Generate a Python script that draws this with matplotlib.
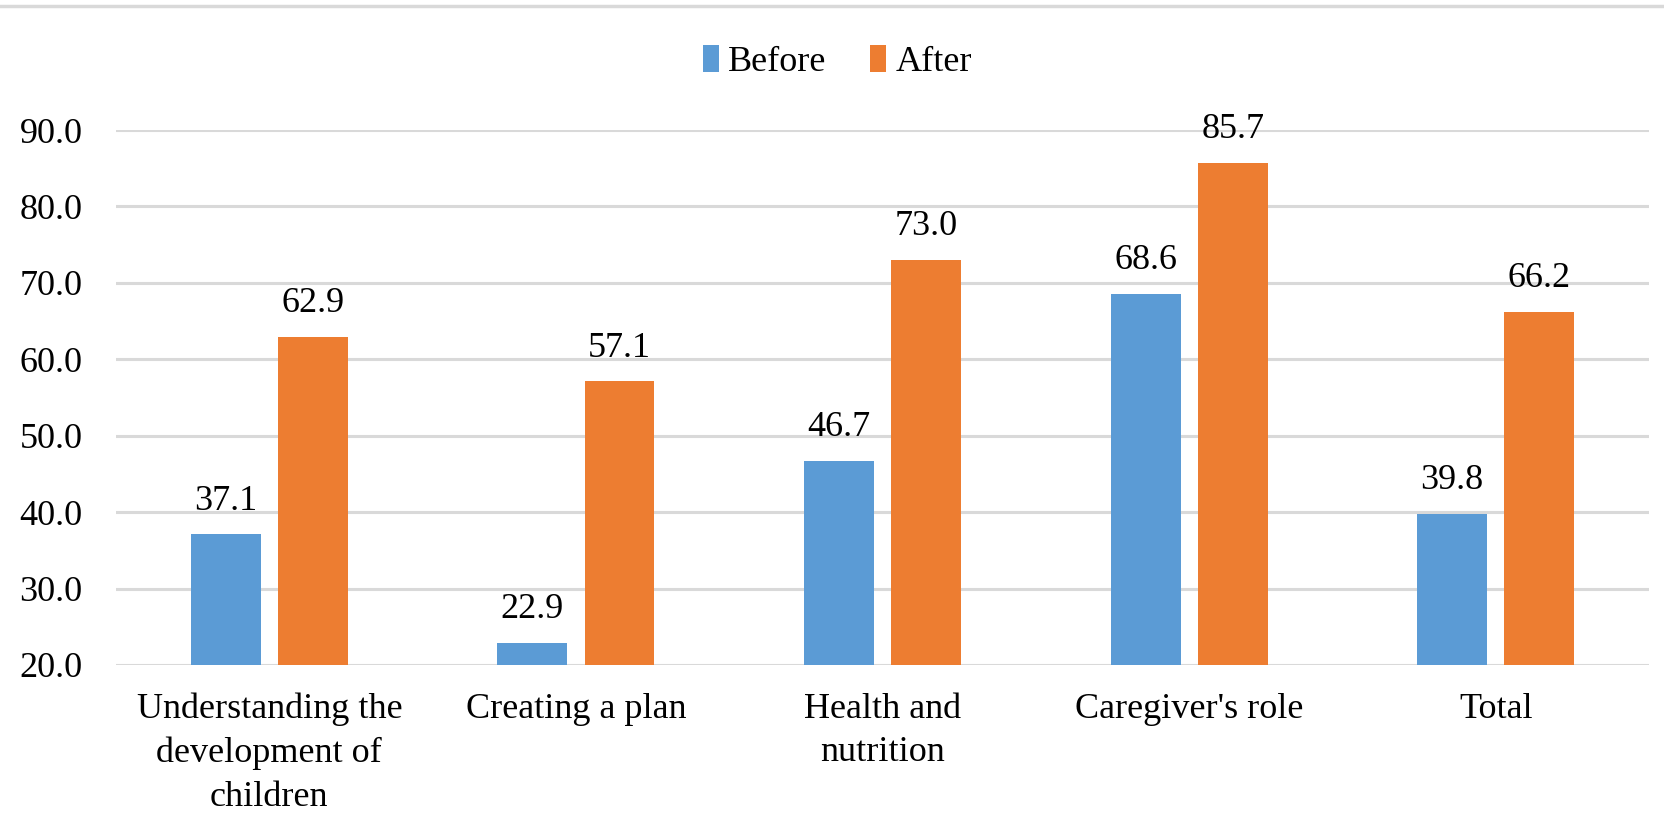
import numpy as np
import matplotlib.pyplot as plt
from matplotlib.lines import Line2D
from matplotlib.patches import Patch

categories = ['Understanding the\ndevelopment of\nchildren', 'Creating a plan',
              'Health and\nnutrition', "Caregiver's role", 'Total']
before = [37.1, 22.9, 46.7, 68.6, 39.8]
after = [62.9, 57.1, 73.0, 85.7, 66.2]
yticks = [20, 30, 40, 50, 60, 70, 80, 90]

BLUE = '#5B9BD5'
ORANGE = '#ED7D31'
GRID = '#D9D9D9'
FS = 26

plt.rcParams['font.family'] = ['Liberation Serif', 'DejaVu Serif']

fig = plt.figure(figsize=(16.65, 8.39), dpi=100)
ax = fig.add_axes([0.0697, 0.2074, 0.9207, 0.6376])

x = np.arange(len(categories))
w = 0.228
off = 0.142
b1 = ax.bar(x - off, before, w, color=BLUE, zorder=3)
b2 = ax.bar(x + off, after, w, color=ORANGE, zorder=3)

for bars, vals in ((b1, before), (b2, after)):
    for rect, v in zip(bars, vals):
        ax.annotate('%.1f' % v, (rect.get_x() + rect.get_width() / 2, v),
                    xytext=(0, 12), textcoords='offset points',
                    ha='center', va='bottom', fontsize=FS, clip_on=False)

ax.set_xlim(-0.5, len(categories) - 0.5)
ax.set_ylim(20, 90)
ax.set_yticks(yticks)
ax.set_yticklabels(['%.1f' % t for t in yticks], fontsize=FS)
ax.set_xticks(x)
ax.set_xticklabels(categories, fontsize=FS, linespacing=1.42)
ax.tick_params(axis='both', length=0)
ax.tick_params(axis='x', pad=20)
ax.tick_params(axis='y', pad=24)
ax.grid(axis='y', color=GRID, linewidth=2.2, zorder=0)
for s in ax.spines.values():
    s.set_visible(False)

handles = [Patch(facecolor=BLUE), Patch(facecolor=ORANGE)]
fig.legend(handles, ['Before', 'After'], loc='center', bbox_to_anchor=(0.503, 0.926),
           ncol=2, frameon=False, fontsize=FS, handlelength=0.45, handleheight=0.75,
           handletextpad=0.25, columnspacing=1.2)

fig.add_artist(Line2D([0, 1], [0.9925, 0.9925], color=GRID, linewidth=2.5,
                      transform=fig.transFigure))

fig.savefig('out.png', dpi=100)
